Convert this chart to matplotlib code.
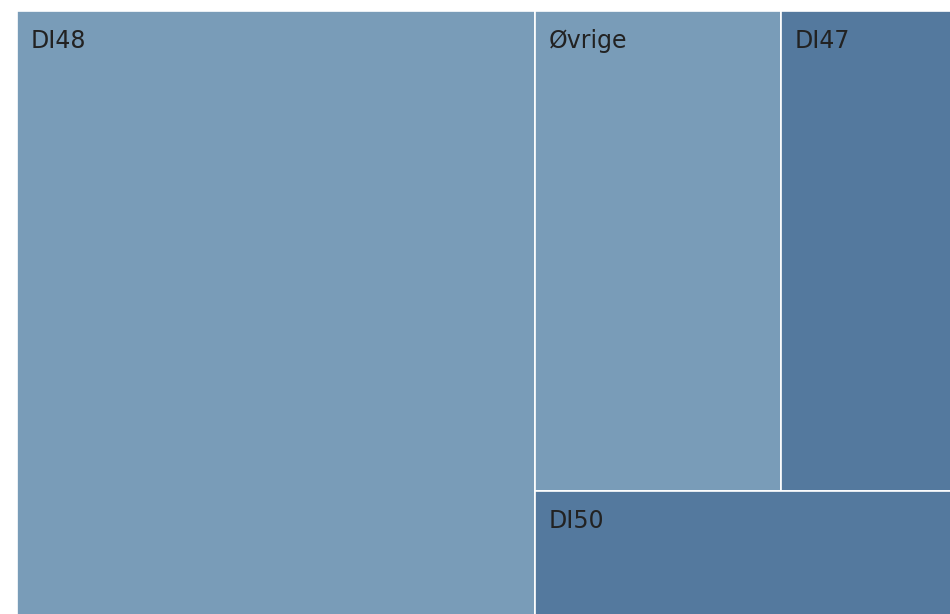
import matplotlib
matplotlib.use("Agg")
import matplotlib.pyplot as plt

# treemap data (share of total)
labels = ["DI48", "Øvrige", "DI47", "DI50"]
values = [55.4, 20.9, 14.5, 9.2]
colors = ["#799cb8", "#799cb8", "#54799e", "#54799e"]

W, H = 1.0, 1.0
total = sum(values)

# layout: first item takes a full-height column, the rest is split into
# a top row (items 1 and 2) and a bottom strip (item 3)
x0 = W * values[0] / total
rest = values[1] + values[2] + values[3]
h_bottom = H * values[3] / rest
top_row = values[1] + values[2]
x1 = x0 + (W - x0) * values[1] / top_row

rects = [
    (0, 0, x0, H),
    (x0, h_bottom, x1 - x0, H - h_bottom),
    (x1, h_bottom, W - x1, H - h_bottom),
    (x0, 0, W - x0, h_bottom),
]

fig = plt.figure(figsize=(9.5, 6.14), dpi=100)
# plot area runs a little past the right and bottom edges of the figure
ax = fig.add_axes([16.5 / 950, -2 / 614, (952 - 16.5) / 950, (614 - 11 + 2) / 614])

for (x, y, w, h), lab, c in zip(rects, labels, colors):
    ax.bar(x, h, width=w, bottom=y, align="edge", color=c,
           edgecolor="white", linewidth=1.2)
    ax.annotate(lab, (x, y + h), xytext=(14, -18), textcoords="offset pixels",
                ha="left", va="top", fontsize=17, color="#222222",
                family="DejaVu Sans")

ax.set_xlim(0, W)
ax.set_ylim(0, H)
ax.axis("off")

fig.savefig("out.png", dpi=100)
